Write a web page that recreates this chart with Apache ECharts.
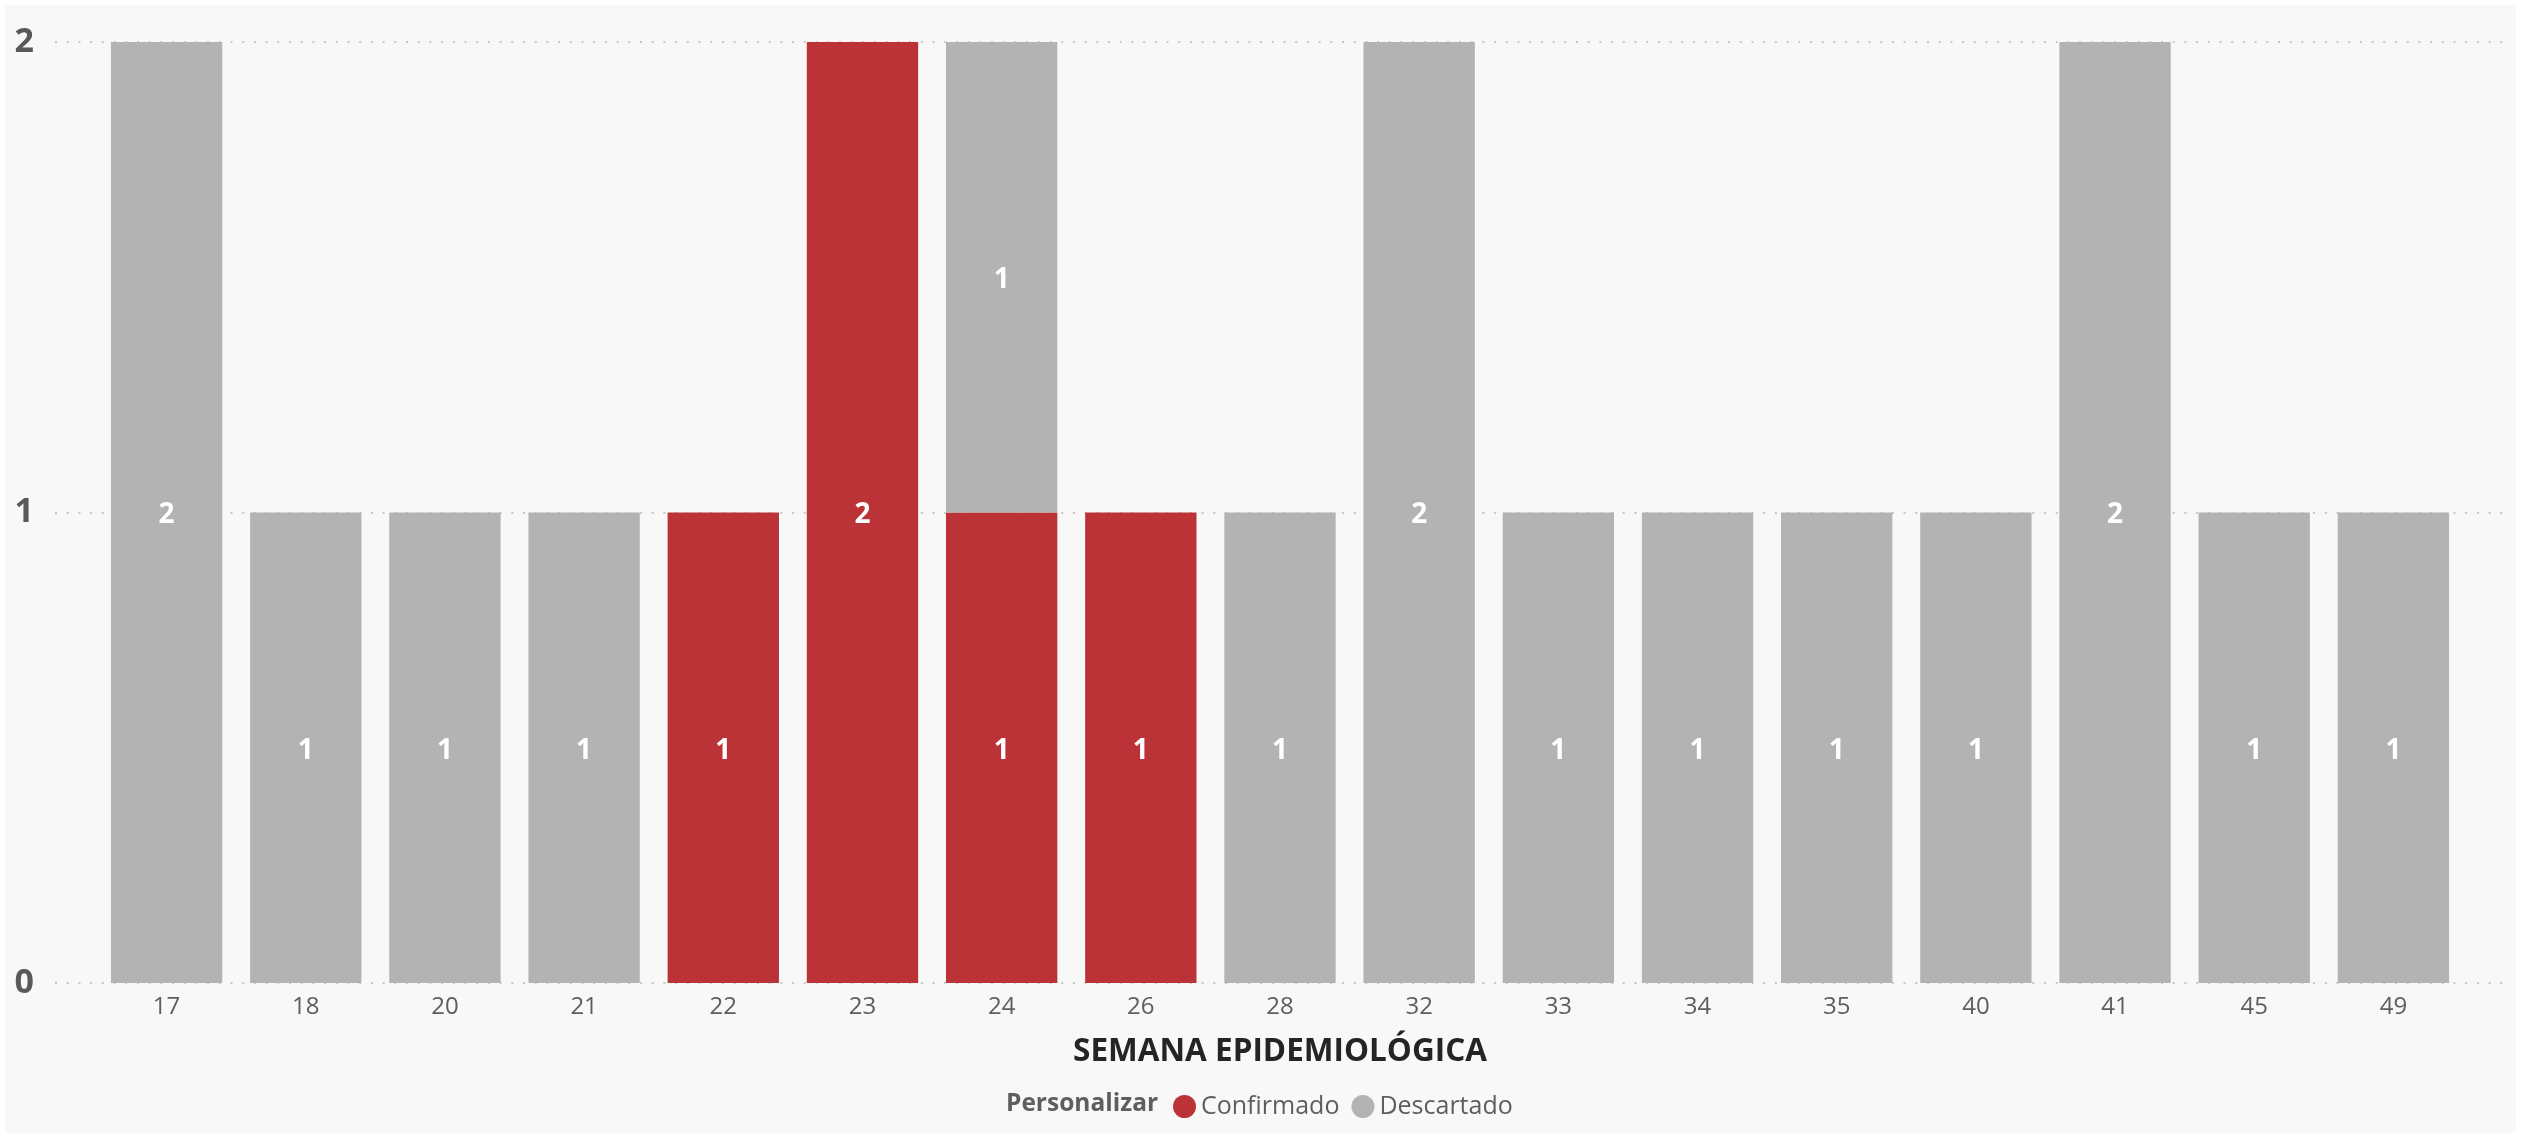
<!DOCTYPE html>
<html>
<head>
<meta charset="utf-8">
<script src="https://cdn.jsdelivr.net/npm/echarts@6/dist/echarts.min.js"></script>
<style>
  html, body { margin: 0; padding: 0; background: #ffffff; width: 2525px; height: 1135px; overflow: hidden; }
  #c { position: absolute; left: 5px; top: 5px; width: 2511px; height: 1128px; background: #f8f8f8; }
</style>
</head>
<body>
<div id="c"></div>
<script>
const semanas = ['17','18','20','21','22','23','24','26','28','32','33','34','35','40','41','45','49'];
const confirmado = [null,null,null,null,1,2,1,1,null,null,null,null,null,null,null,null,null];
const descartado = [2,1,1,1,null,null,1,null,1,2,1,1,1,1,2,1,1];
const yTicks = [0, 1, 2];

const FONT = '"Segoe UI", "Open Sans", "Noto Sans", sans-serif';
const chart = echarts.init(document.getElementById('c'));

const labelStyle = {
  show: true,
  position: 'inside',
  offset: [0, 3],
  color: '#ffffff',
  fontWeight: 'bold',
  fontSize: 28,
  fontFamily: FONT
};

chart.setOption({
  animation: false,
  title: {
    text: 'Personalizar',
    left: 996,
    top: 1082,
    textStyle: { fontFamily: FONT, fontWeight: 'bold', fontSize: 24.5, color: '#605e5c' }
  },
  legend: {
    left: 1163,
    top: 1084,
    icon: 'circle',
    itemWidth: 23,
    itemHeight: 23,
    itemGap: 12,
    textStyle: { fontFamily: FONT, fontSize: 25, color: '#605e5c' },
    data: ['Confirmado', 'Descartado']
  },
  grid: [
    { left: 50, right: 11, top: 37, bottom: 150 },
    { left: 92, right: 53, top: 37, bottom: 150 }
  ],
  xAxis: [
    { type: 'category', gridIndex: 0, data: semanas, show: false },
    {
      type: 'category', gridIndex: 1, data: semanas,
      axisLine: { show: false }, axisTick: { show: false },
      axisLabel: { fontFamily: FONT, fontSize: 24, color: '#605e5c', margin: 12 },
      name: 'SEMANA EPIDEMIOLÓGICA',
      nameLocation: 'middle',
      nameGap: 53,
      nameTextStyle: { fontFamily: FONT, fontWeight: 'bold', fontSize: 31.5, color: '#252423' }
    }
  ],
  yAxis: [
    {
      type: 'value', gridIndex: 0, min: yTicks[0], max: yTicks[yTicks.length - 1], interval: 1,
      axisLine: { show: false }, axisTick: { show: false },
      axisLabel: { fontFamily: FONT, fontSize: 34, fontWeight: 'bold', color: '#595959', margin: 21 },
      splitLine: { show: true, lineStyle: { color: '#c8c8c8', width: 2, type: [2, 9.7] } }
    },
    {
      type: 'value', gridIndex: 1, min: yTicks[0], max: yTicks[yTicks.length - 1], interval: 1,
      show: false, splitLine: { show: false }
    }
  ],
  series: [
    {
      name: 'Confirmado', type: 'bar', stack: 'total',
      xAxisIndex: 1, yAxisIndex: 1,
      barWidth: '80%',
      itemStyle: { color: '#bb3336' },
      label: labelStyle,
      data: confirmado
    },
    {
      name: 'Descartado', type: 'bar', stack: 'total',
      xAxisIndex: 1, yAxisIndex: 1,
      barWidth: '80%',
      itemStyle: { color: '#b3b3b3' },
      label: labelStyle,
      data: descartado
    }
  ]
});
</script>
</body>
</html>
